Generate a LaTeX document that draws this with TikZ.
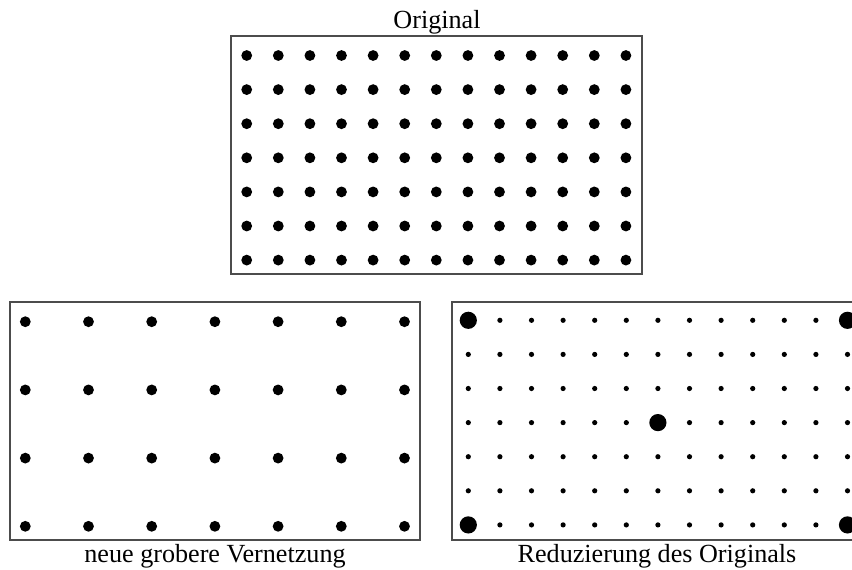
\documentclass[tikz,border=0pt]{standalone}
\usepackage{fontspec}
\setmainfont{Liberation Serif}
\begin{document}
\begin{tikzpicture}[x=0.75pt,y=-0.75pt,
  frame/.style={draw=black!70,line width=1.1pt},
  lbl/.style={font=\fontsize{19.6}{22}\selectfont,anchor=base,inner sep=0pt}]
\useasboundingbox (0,0) rectangle (852,569);
\clip (0,0) rectangle (852,569);
% grid spacing
\def\dx{31.6}
\def\dy{34.1}
% original mesh
\node[lbl] (tOrig) at (437,28) {Original};
\draw[frame] (231,36) rectangle (642,274);
\foreach \i in {0,...,12}
  \foreach \j in {0,...,6}
    \fill (246.7+\i*\dx,55.5+\j*\dy) circle (5.4);
% coarse mesh: every second node of the original
\draw[frame] (10,302) rectangle (420,540);
\foreach \i in {0,...,6}
  \foreach \j in {0,...,3}
    \fill (25.3+\i*2*\dx,321.7+\j*2*\dy) circle (5.4);
\node[lbl] (tCoarse) at (215,562.5) {neue grobere Vernetzung};
% reduction of the original
\draw[frame] (452,302) rectangle (864,540);
\foreach \i in {0,...,12}
  \foreach \j in {0,...,6}
    \fill (468.3+\i*\dx,320.3+\j*\dy) circle (2.6);
\foreach \i/\j in {0/0,12/0,0/6,12/6,6/3}
  \fill (468.3+\i*\dx,320.3+\j*\dy) circle (8.6);
\node[lbl] (tRed) at (657,562.5) {Reduzierung des Originals};
\end{tikzpicture}
\end{document}
